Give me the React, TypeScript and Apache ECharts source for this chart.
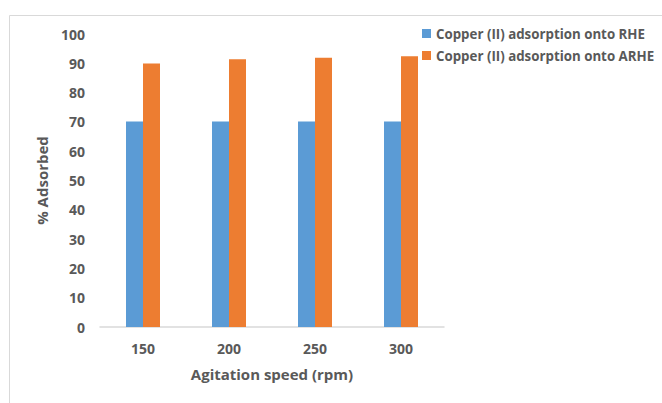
import React, { useEffect, useRef } from "react";
import * as echarts from "echarts";

const categories = ["150", "200", "250", "300"];
const rheValues = [70.1, 70.1, 70.1, 70.1];
const arheValues = [89.9, 91.4, 91.9, 92.4];
const seriesNames = ["Copper (II) adsorption onto RHE", "Copper (II) adsorption onto ARHE"];
const xTitle = "Agitation speed (rpm)";
const yTitle = "% Adsorbed";

const FONT = "'Open Sans', 'Noto Sans', sans-serif";
const TXT = "#595959";

export default function App() {
  const ref = useRef<HTMLDivElement>(null);
  useEffect(() => {
    const chart = echarts.init(ref.current!, null, { renderer: "svg" });
    chart.setOption({
      animation: false,
      backgroundColor: "#ffffff",
      graphic: [
        {
          type: "rect",
          shape: { x: 9.5, y: 15.5, width: 700, height: 420 },
          style: { fill: "none", stroke: "#d9d9d9", lineWidth: 1 },
          silent: true,
        },
      ],
      legend: {
        orient: "vertical",
        left: 422,
        top: 27,
        padding: 0,
        itemWidth: 9,
        itemHeight: 9,
        itemGap: 9,
        icon: "rect",
        textStyle: { color: TXT, fontFamily: FONT, fontWeight: "bold", fontSize: 13.3 },
        data: seriesNames,
      },
      grid: { left: 100, right: 218, top: 34, bottom: 76, containLabel: false },
      xAxis: {
        type: "category",
        data: categories,
        axisLine: { lineStyle: { color: "#d9d9d9", width: 1.5 } },
        axisTick: { show: false },
        axisLabel: { color: TXT, fontFamily: FONT, fontWeight: "bold", fontSize: 14, margin: 14 },
        name: xTitle,
        nameLocation: "middle",
        nameGap: 39,
        nameTextStyle: { color: TXT, fontFamily: FONT, fontWeight: "bold", fontSize: 15 },
      },
      yAxis: {
        type: "value",
        min: 0,
        max: 100,
        interval: 10,
        splitLine: { show: false },
        axisLine: { show: false },
        axisTick: { show: false },
        axisLabel: { color: TXT, fontFamily: FONT, fontWeight: "bold", fontSize: 14, margin: 15 },
        name: yTitle,
        nameLocation: "middle",
        nameGap: 51,
        nameTextStyle: { color: TXT, fontFamily: FONT, fontWeight: "bold", fontSize: 15 },
      },
      series: [
        {
          name: seriesNames[0],
          type: "bar",
          data: rheValues,
          barWidth: 17,
          barGap: "0%",
          itemStyle: { color: "#5b9bd5" },
        },
        {
          name: seriesNames[1],
          type: "bar",
          data: arheValues,
          barWidth: 17,
          itemStyle: { color: "#ed7d31" },
        },
      ],
    });
    return () => chart.dispose();
  }, []);
  return <div ref={ref} style={{ position: "fixed", left: 0, top: 0, width: 662, height: 403 }} />;
}
